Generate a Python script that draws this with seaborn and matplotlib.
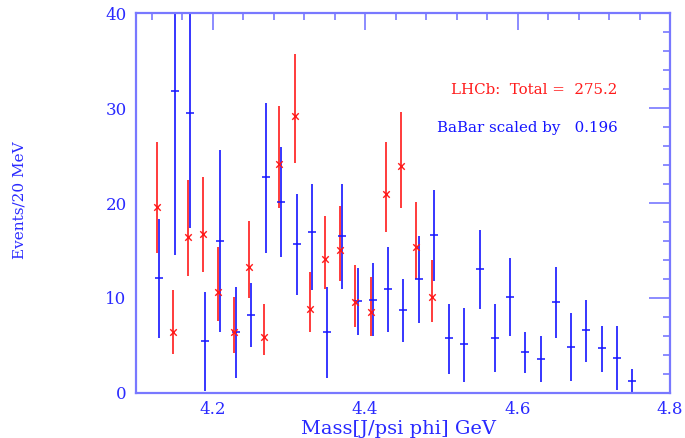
import numpy as np
import pandas as pd
import matplotlib
matplotlib.use("Agg")
import matplotlib.pyplot as plt
import seaborn as sns
from matplotlib.ticker import MultipleLocator

# ---- data ----
lhcb_mass = [4.13, 4.15, 4.17, 4.19, 4.21, 4.23, 4.25, 4.27, 4.29, 4.31,
             4.33, 4.35, 4.37, 4.39, 4.41, 4.43, 4.45, 4.47, 4.49]
lhcb_val = [19.55, 6.4, 16.42, 16.77, 10.58, 6.4, 13.25, 5.87, 24.14, 29.2,
            8.86, 14.06, 15.08, 9.56, 8.47, 21.0, 23.93, 15.36, 10.09]
lhcb_lo = [14.76, 4.05, 12.27, 12.73, 7.53, 4.22, 9.98, 3.97, 19.47, 24.2,
           6.37, 10.9, 11.74, 6.96, 6.0, 16.9, 19.44, 11.99, 7.45]
lhcb_hi = [26.4, 10.83, 22.4, 22.74, 15.33, 10.09, 18.1, 9.32, 30.2, 35.7,
           12.76, 18.66, 19.7, 13.5, 12.17, 26.4, 29.6, 20.1, 13.99]

babar_mass = [4.13, 4.15, 4.17, 4.19, 4.21, 4.23, 4.25, 4.27, 4.29, 4.31,
              4.33, 4.35, 4.37, 4.39, 4.41, 4.43, 4.45, 4.47, 4.49, 4.51,
              4.53, 4.55, 4.57, 4.59, 4.61, 4.63, 4.65, 4.67, 4.69, 4.71,
              4.73, 4.75]
babar_val = [12.06, 31.84, 29.5, 5.42, 16.03, 6.4, 8.22, 22.7, 20.14, 15.68,
             16.9, 6.4, 16.55, 9.7, 9.77, 10.9, 8.69, 11.96, 16.6, 5.77,
             5.1, 13.0, 5.77, 10.12, 4.26, 3.52, 9.53, 4.85, 6.58, 4.71,
             3.69, 1.2]
babar_lo = [5.8, 14.52, 17.4, 0.2, 6.37, 1.52, 4.82, 14.7, 14.27, 10.33,
            10.83, 1.52, 10.97, 6.12, 5.94, 6.43, 5.38, 7.32, 11.74, 1.97,
            1.16, 8.79, 2.18, 5.98, 2.08, 1.09, 5.8, 1.27, 3.24, 2.22,
            0.28, 0.0]
babar_hi = [18.28, 49.2, 41.6, 10.62, 25.6, 11.18, 11.53, 30.5, 25.9, 20.9,
            22.0, 11.18, 22.04, 13.1, 13.7, 15.33, 11.96, 16.55, 21.37, 9.38,
            8.96, 17.12, 9.32, 14.17, 6.4, 5.94, 13.25, 8.4, 9.81, 7.07,
            7.07, 2.53]

lhcb_total = "275.2"
babar_scale = "0.196"
xlabel = "Mass[J/psi phi] GeV"
ylabel = "Events/20 MeV"

# ---- style ----
sns.set_style("white")
plt.rcParams["font.family"] = ["DejaVu Serif"]

BLUE = "#1414ff"
TBLUE = "#2a2aff"
LBLUE = "#7878ff"
RED = "#ff1a1a"

lhcb = pd.DataFrame({"mass": np.array(lhcb_mass) - 0.0025, "val": lhcb_val,
                     "lo": lhcb_lo, "hi": lhcb_hi})
babar = pd.DataFrame({"mass": np.array(babar_mass) + 0.0003, "val": babar_val,
                      "lo": babar_lo, "hi": babar_hi})

fig = plt.figure(figsize=(6.85, 4.38), dpi=100)
ax = fig.add_axes([136.3 / 685, 1 - 392.7 / 438, (670 - 136.3) / 685, (392.7 - 13.3) / 438])

# error bars
ax.vlines(babar["mass"], babar["lo"], babar["hi"], color=BLUE, lw=1.2, zorder=2)
ax.vlines(lhcb["mass"], lhcb["lo"], lhcb["hi"], color=RED, lw=1.2, zorder=3)

sns.scatterplot(data=babar, x="mass", y="val", marker="_", s=30, color=BLUE,
                linewidth=1.1, ax=ax, zorder=4, legend=False)
sns.scatterplot(data=lhcb, x="mass", y="val", marker="x", s=22, color=RED,
                linewidth=1.0, ax=ax, zorder=5, legend=False)

ax.set_xlim(4.1, 4.8)
ax.set_ylim(0, 40)
ax.xaxis.set_major_locator(MultipleLocator(0.2))
ax.xaxis.set_minor_locator(MultipleLocator(0.04))
ax.yaxis.set_major_locator(MultipleLocator(10))
ax.yaxis.set_minor_locator(MultipleLocator(2))

for sp in ax.spines.values():
    sp.set_color(LBLUE)
    sp.set_linewidth(1.6)
    sp.set_visible(True)

ax.tick_params(axis="both", which="both", direction="in", top=True, right=True,
               color=LBLUE, width=1.2, labelcolor=TBLUE, labelsize=12)
ax.tick_params(axis="y", which="major", length=15, pad=7)
ax.tick_params(axis="x", which="major", length=12, pad=6)
ax.tick_params(axis="both", which="minor", length=5)

ax.set_xlabel(xlabel, color=TBLUE, fontsize=14)
ax.set_ylabel(ylabel, color=TBLUE, fontsize=11)
ax.xaxis.label.set_verticalalignment("baseline")
ax.xaxis.set_label_coords(0.492, -0.108)
ax.yaxis.set_label_coords(-0.205, 0.508)

ax.text(0.589, 0.798, f"LHCb:  Total =  {lhcb_total}", transform=ax.transAxes,
        color=RED, fontsize=10.8, ha="left", va="center")
ax.text(0.563, 0.6985, f"BaBar scaled by   {babar_scale}", transform=ax.transAxes,
        color=BLUE, fontsize=10.8, ha="left", va="center")

fig.savefig("out.png", dpi=100)
